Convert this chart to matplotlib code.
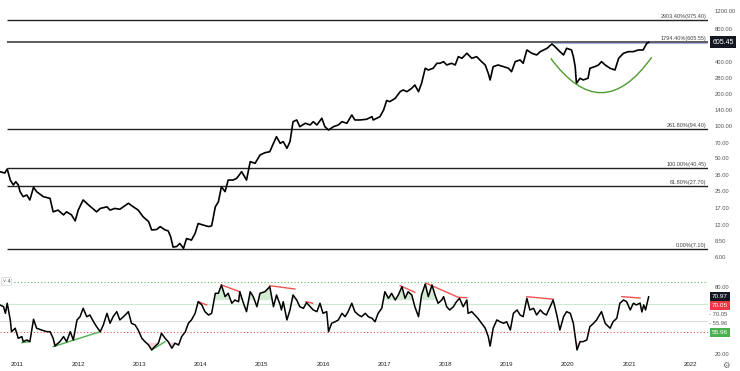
import matplotlib
matplotlib.use('Agg')
import matplotlib.pyplot as plt
import numpy as np
from matplotlib.path import Path
from matplotlib.patches import PathPatch
from matplotlib.ticker import NullLocator

plt.rcParams['font.family'] = ['Liberation Sans', 'DejaVu Sans']

# ---------------- data ----------------
price_year = [2010.72, 2010.80, 2010.84, 2010.89, 2010.94, 2010.98, 2011.02, 2011.05, 2011.10, 2011.16,
              2011.21, 2011.27, 2011.32, 2011.43, 2011.54, 2011.59, 2011.67, 2011.76, 2011.81, 2011.89,
              2011.95, 2012.00, 2012.08, 2012.17, 2012.30, 2012.36, 2012.47, 2012.52, 2012.60, 2012.68,
              2012.82, 2012.90, 2012.98, 2013.06, 2013.15, 2013.20, 2013.28, 2013.34, 2013.42, 2013.47,
              2013.51, 2013.55, 2013.61, 2013.66, 2013.72, 2013.77, 2013.85, 2013.91, 2013.96, 2014.04,
              2014.13, 2014.18, 2014.24, 2014.29, 2014.34, 2014.40, 2014.45, 2014.53, 2014.59, 2014.67,
              2014.75, 2014.81, 2014.89, 2014.97, 2015.05, 2015.13, 2015.19, 2015.24, 2015.30, 2015.35,
              2015.41, 2015.46, 2015.51, 2015.57, 2015.62, 2015.71, 2015.79, 2015.84, 2015.90, 2015.98,
              2016.03, 2016.09, 2016.17, 2016.25, 2016.31, 2016.39, 2016.47, 2016.52, 2016.60, 2016.71,
              2016.80, 2016.82, 2016.93, 2016.99, 2017.04, 2017.09, 2017.18, 2017.26, 2017.31, 2017.37,
              2017.45, 2017.50, 2017.56, 2017.61, 2017.67, 2017.72, 2017.80, 2017.86, 2017.91, 2017.97,
              2018.02, 2018.10, 2018.16, 2018.21, 2018.27, 2018.35, 2018.43, 2018.51, 2018.59, 2018.65,
              2018.70, 2018.73, 2018.78, 2018.86, 2018.95, 2019.03, 2019.08, 2019.14, 2019.22, 2019.27,
              2019.33, 2019.41, 2019.49, 2019.55, 2019.66, 2019.74, 2019.79, 2019.87, 2019.93, 2019.98,
              2020.06, 2020.09, 2020.12, 2020.14, 2020.20, 2020.25, 2020.33, 2020.36, 2020.44, 2020.50,
              2020.55, 2020.61, 2020.69, 2020.77, 2020.83, 2020.91, 2020.99, 2021.07, 2021.15, 2021.23,
              2021.26, 2021.29, 2021.32]
price_val = [37.5, 36.4, 39.7, 31.3, 28.2, 30.2, 28.2, 24.4, 21.9, 22.7,
             20.4, 26.8, 24.4, 21.9, 21.1, 15.8, 16.4, 14.8, 15.8, 14.8,
             13.0, 16.4, 20.4, 18.3, 15.8, 17.0, 17.6, 16.4, 17.0, 16.7,
             19.0, 17.6, 16.4, 14.2, 12.8, 10.7, 10.8, 11.5, 10.7, 10.5,
             9.25, 7.4, 7.5, 8.0, 7.2, 8.9, 8.6, 9.95, 12.3, 11.9,
             11.5, 11.7, 17.6, 19.6, 27.1, 24.4, 31.3, 31.3, 32.5, 37.5,
             31.3, 46.5, 44.9, 53.6, 56.4, 57.6, 69.0, 79.6, 69.0, 71.5,
             62.0, 71.5, 109.9, 114.0, 98.7, 106.2, 102.4, 109.9, 102.4, 118.3,
             98.7, 91.9, 98.7, 102.4, 109.9, 106.2, 127.0, 114.0, 114.0, 115.7,
             122.4, 114.0, 122.4, 141.4, 173.4, 169.0, 181.8, 209.6, 217.4, 209.6,
             225.5, 242.0, 209.6, 251.0, 346.8, 334.0, 346.8, 386.0, 386.0, 399.7,
             372.3, 386.0, 372.0, 445.0, 430.0, 479.0, 430.0, 445.0, 400.0, 372.0,
             311.0, 269.6, 359.0, 372.0, 359.0, 346.8, 322.0, 400.0, 414.6, 386.0,
             514.0, 479.0, 461.7, 495.7, 533.0, 585.0, 552.0, 495.7, 461.7, 533.0,
             514.0, 445.0, 359.0, 251.0, 279.7, 269.6, 279.7, 346.8, 359.0, 372.0,
             400.0, 372.0, 346.8, 334.0, 430.0, 479.0, 495.7, 495.7, 514.0, 514.0,
             552.0, 593.7, 605.45]

rsi_year = [2010.72, 2010.78, 2010.81, 2010.84, 2010.89, 2010.91, 2010.97, 2011.02, 2011.08, 2011.10,
            2011.16, 2011.21, 2011.27, 2011.32, 2011.40, 2011.49, 2011.54, 2011.59, 2011.62, 2011.70,
            2011.76, 2011.81, 2011.87, 2011.92, 2011.98, 2012.03, 2012.08, 2012.14, 2012.19, 2012.25,
            2012.30, 2012.36, 2012.41, 2012.47, 2012.52, 2012.57, 2012.63, 2012.68, 2012.74, 2012.82,
            2012.87, 2012.93, 2012.98, 2013.04, 2013.09, 2013.15, 2013.20, 2013.25, 2013.31, 2013.36,
            2013.42, 2013.47, 2013.53, 2013.58, 2013.64, 2013.69, 2013.75, 2013.80, 2013.85, 2013.91,
            2013.96, 2014.02, 2014.07, 2014.13, 2014.18, 2014.24, 2014.29, 2014.34, 2014.40, 2014.45,
            2014.51, 2014.56, 2014.62, 2014.64, 2014.70, 2014.75, 2014.81, 2014.86, 2014.92, 2014.97,
            2015.05, 2015.13, 2015.16, 2015.19, 2015.24, 2015.30, 2015.32, 2015.35, 2015.41, 2015.46,
            2015.51, 2015.57, 2015.62, 2015.68, 2015.73, 2015.79, 2015.84, 2015.90, 2015.95, 2016.00,
            2016.06, 2016.09, 2016.14, 2016.20, 2016.25, 2016.31, 2016.36, 2016.41, 2016.47, 2016.52,
            2016.58, 2016.63, 2016.69, 2016.74, 2016.80, 2016.85, 2016.90, 2016.96, 2017.01, 2017.07,
            2017.12, 2017.18, 2017.23, 2017.29, 2017.34, 2017.39, 2017.45, 2017.50, 2017.56, 2017.61,
            2017.67, 2017.72, 2017.78, 2017.83, 2017.88, 2017.94, 2017.97, 2018.02, 2018.07, 2018.13,
            2018.18, 2018.23, 2018.29, 2018.35, 2018.37, 2018.43, 2018.48, 2018.53, 2018.59, 2018.65,
            2018.70, 2018.73, 2018.78, 2018.84, 2018.89, 2018.95, 2019.00, 2019.06, 2019.11, 2019.17,
            2019.22, 2019.27, 2019.33, 2019.38, 2019.44, 2019.49, 2019.55, 2019.60, 2019.65, 2019.71,
            2019.76, 2019.82, 2019.87, 2019.93, 2019.98, 2020.04, 2020.09, 2020.15, 2020.20, 2020.25,
            2020.31, 2020.36, 2020.42, 2020.47, 2020.50, 2020.55, 2020.61, 2020.69, 2020.74, 2020.80,
            2020.85, 2020.91, 2020.96, 2021.02, 2021.07, 2021.12, 2021.18, 2021.21, 2021.24, 2021.27,
            2021.32]
rsi_val = [63.7, 62.1, 56.2, 65.2, 50.3, 39.8, 42.9, 33.9, 35.4, 30.9,
           32.4, 30.9, 50.9, 42.9, 41.3, 39.8, 39.8, 33.9, 27.0, 30.9,
           35.4, 30.9, 39.8, 32.4, 50.3, 53.2, 60.7, 53.2, 54.7, 48.7,
           44.3, 39.8, 45.8, 56.2, 47.3, 53.2, 57.7, 50.3, 53.2, 57.7,
           47.3, 45.8, 41.3, 33.9, 30.9, 27.9, 23.5, 26.4, 29.5, 38.4,
           33.9, 30.9, 25.0, 29.5, 27.9, 35.4, 39.8, 47.3, 50.3, 56.2,
           66.6, 63.7, 57.7, 54.7, 56.2, 74.1, 74.1, 81.5, 71.1, 74.1,
           65.2, 68.1, 66.6, 75.5, 65.2, 57.7, 75.5, 71.1, 62.1, 74.1,
           75.5, 80.0, 71.1, 62.1, 72.6, 63.7, 59.2, 66.6, 50.3, 59.2,
           72.6, 68.1, 62.1, 60.7, 65.7, 62.1, 59.2, 57.7, 65.2, 56.2,
           57.7, 39.8, 47.3, 48.7, 50.3, 56.2, 53.2, 57.7, 65.2, 57.7,
           54.7, 53.2, 56.2, 53.2, 51.8, 48.7, 56.2, 60.7, 75.5, 69.6,
           74.1, 68.1, 72.6, 80.0, 69.6, 75.5, 72.6, 62.1, 53.2, 72.6,
           82.4, 71.1, 81.5, 72.6, 65.2, 68.1, 71.1, 62.1, 59.2, 62.1,
           66.6, 69.6, 62.1, 68.1, 56.2, 57.7, 54.7, 51.8, 47.3, 42.9,
           35.4, 27.0, 42.9, 50.3, 48.7, 47.3, 48.7, 41.3, 56.2, 59.2,
           54.7, 53.2, 69.6, 59.2, 60.7, 54.7, 59.2, 56.2, 54.7, 62.1,
           68.1, 54.7, 41.3, 53.2, 57.7, 56.2, 47.3, 23.5, 30.9, 30.9,
           32.4, 44.3, 47.3, 50.3, 53.2, 57.7, 47.3, 42.9, 48.7, 51.8,
           65.2, 68.1, 66.6, 59.2, 65.2, 63.7, 65.4, 57.4, 63.7, 59.2,
           70.97]

fib_levels = [975.40, 605.55, 94.40, 40.45, 27.70, 7.10]
fib_labels = ['2903.40%(975.40)', '1794.40%(605.55)', '261.80%(94.40)',
              '100.00%(40.45)', '61.80%(27.70)', '0.00%(7.10)']
price_ticks = [1200, 800, 400, 280, 200, 140, 100, 70, 50, 35, 25, 17, 12, 8.5, 6]
last_price = 605.45

# cup arc (quadratic bezier: start, control, end)
cup_start = (2019.72, 430.0)
cup_ctrl = (2020.555, 96.6)
cup_end = (2021.37, 440.0)

years = list(range(2011, 2023))

rsi_upper_dotted = 84.5
rsi_upper_line = 64.6
rsi_mid_line = 49.7
rsi_lower_dotted = 39.9
rsi_ticks = [80, 20]
rsi_last = 70.97
rsi_tag_red = 70.05
rsi_tag_green = 55.96

red_div = [[(2013.96, 66.6), (2014.10, 63.7)],
           [(2014.34, 81.5), (2014.64, 75.5)],
           [(2015.13, 80.9), (2015.54, 77.9)],
           [(2015.72, 66.6), (2015.83, 65.2)],
           [(2017.26, 80.9), (2017.50, 75.0)],
           [(2017.69, 83.0), (2018.21, 70.5), (2018.35, 70.2)],
           [(2019.33, 71.1), (2019.76, 68.8)],
           [(2020.88, 71.1), (2021.18, 69.9)]]
green_div = [[(2011.08, 30.0), (2011.21, 30.9)],
             [(2011.59, 26.4), (2012.36, 39.8)],
             [(2013.20, 23.5), (2013.42, 30.9)]]

# ---------------- figure ----------------
W, H = 740, 371
fig = plt.figure(figsize=(W / 100, H / 100), dpi=100)
ax1 = fig.add_axes([0, 1 - 268 / H, 708 / W, 268 / H])
ax2 = fig.add_axes([0, 1 - 358 / H, 708 / W, 88 / H])

xmin, xmax = 2010.722, 2022.29
for ax in (ax1, ax2):
    ax.set_xlim(xmin, xmax)
    for s in ax.spines.values():
        s.set_visible(False)
    ax.set_facecolor('white')

# price panel
ax1.set_yscale('log')
ax1.set_ylim(4.72, 1506)
ax1.yaxis.tick_right()
ax1.yaxis.set_minor_locator(NullLocator())
ax1.set_yticks(price_ticks)
ax1.set_yticklabels([f'{t:.2f}' for t in price_ticks])
ax1.tick_params(axis='y', length=0, labelsize=4.2, labelcolor='#555555', pad=5)
ax1.set_xticks([])

for lvl, lab in zip(fib_levels, fib_labels):
    if lvl == 605.55:
        ax1.hlines(lvl, 2010.84, xmax, color='#5c5c5c', lw=1.4, zorder=2)
    else:
        ax1.hlines(lvl, 2010.84, xmax, color='#222222', lw=1.0, zorder=2)
    ax1.annotate(lab, xy=(2022.26, lvl), xytext=(0, 0.8), textcoords='offset points',
                 ha='right', va='bottom', fontsize=4, color='#444444')
ax1.hlines(597, 2019.76, xmax, color='#a9b3e3', lw=0.8, zorder=2)

ax1.plot(price_year, price_val, color='black', lw=1.2, zorder=3)

cup = Path([cup_start, cup_ctrl, cup_end], [Path.MOVETO, Path.CURVE3, Path.CURVE3])
ax1.add_patch(PathPatch(cup, fc='none', ec='#4f9a2f', lw=1.0, zorder=3))

ax1.annotate(f'{last_price:.2f}', xy=(1.0, last_price), xycoords=('axes fraction', 'data'),
             xytext=(3, 0), textcoords='offset points', ha='left', va='center',
             fontsize=5, color='white', annotation_clip=False,
             bbox=dict(boxstyle='square,pad=0.35', fc='#131722', ec='none'))

# RSI panel
ax2.set_ylim(16.3, 94.9)
ry = np.array(rsi_year)
rv = np.array(rsi_val)
ax2.axhline(rsi_upper_dotted, xmin=0.02, color='#5cb85c', ls=(0, (1, 2)), lw=0.8)
ax2.axhline(rsi_upper_line, color='#cdeacd', lw=0.8)
ax2.axhline(rsi_mid_line, color='#dcdcdc', lw=0.8)
ax2.axhline(rsi_lower_dotted, color='#ef5350', ls=(0, (1, 2)), lw=0.8)
ax2.fill_between(ry, rv, 68, where=rv > 68, interpolate=True, color='#c8e6c9', alpha=0.8, lw=0)
ax2.fill_between(ry, rv, 30, where=rv < 30, interpolate=True, color='#f8c7cc', alpha=0.8, lw=0)
for seg in red_div:
    xs, ys = zip(*seg)
    ax2.plot(xs, ys, color='#f05350', lw=1.0, zorder=2)
for seg in green_div:
    xs, ys = zip(*seg)
    ax2.plot(xs, ys, color='#4caf50', lw=1.0, zorder=2)
ax2.plot(ry, rv, color='black', lw=1.1, zorder=3)

ax2.yaxis.tick_right()
ax2.set_yticks(rsi_ticks)
ax2.set_yticklabels([f'{t:.2f}' for t in rsi_ticks])
ax2.tick_params(axis='y', length=0, labelsize=4.2, labelcolor='#555555', pad=5)
ax2.set_xticks(years)
ax2.set_xticklabels([str(y) for y in years])
ax2.tick_params(axis='x', length=0, labelsize=4.4, labelcolor='#222222', pad=3)

def tag(txt, dy, fc, tc='white'):
    ax2.annotate(txt, xy=(1.0, rsi_last), xycoords=('axes fraction', 'data'),
                 xytext=(3, dy), textcoords='offset points', ha='left', va='center',
                 fontsize=4.6, color=tc, annotation_clip=False,
                 bbox=dict(boxstyle='square,pad=0.3', fc=fc, ec='none'))

tag(f'{rsi_last:.2f}', 0, '#131722')
tag(f'{rsi_tag_red:.2f}', -6.3, '#f23645')
tag(f'{rsi_tag_green:.2f}', -25.7, '#4caf50')
for txt, dy in ((f'- {rsi_tag_red:.2f}', -12.4), (f'- {rsi_tag_green:.2f}', -18.9)):
    ax2.annotate(txt, xy=(1.0, rsi_last), xycoords=('axes fraction', 'data'),
                 xytext=(0.5, dy), textcoords='offset points', ha='left', va='center',
                 fontsize=4.2, color='#555555', annotation_clip=False)

ax2.text(0.004, 0.87, '˅ 4', transform=ax2.transAxes, fontsize=3.8, color='#444444',
         va='center', ha='left',
         bbox=dict(boxstyle='round,pad=0.25', fc='white', ec='#d0d0d0', lw=0.5))

fig.text(726 / W, 1 - 365 / H, '⚙', fontsize=6, color='#666666', family='DejaVu Sans',
         ha='center', va='center')

fig.savefig('out.png', dpi=100, facecolor='white')
